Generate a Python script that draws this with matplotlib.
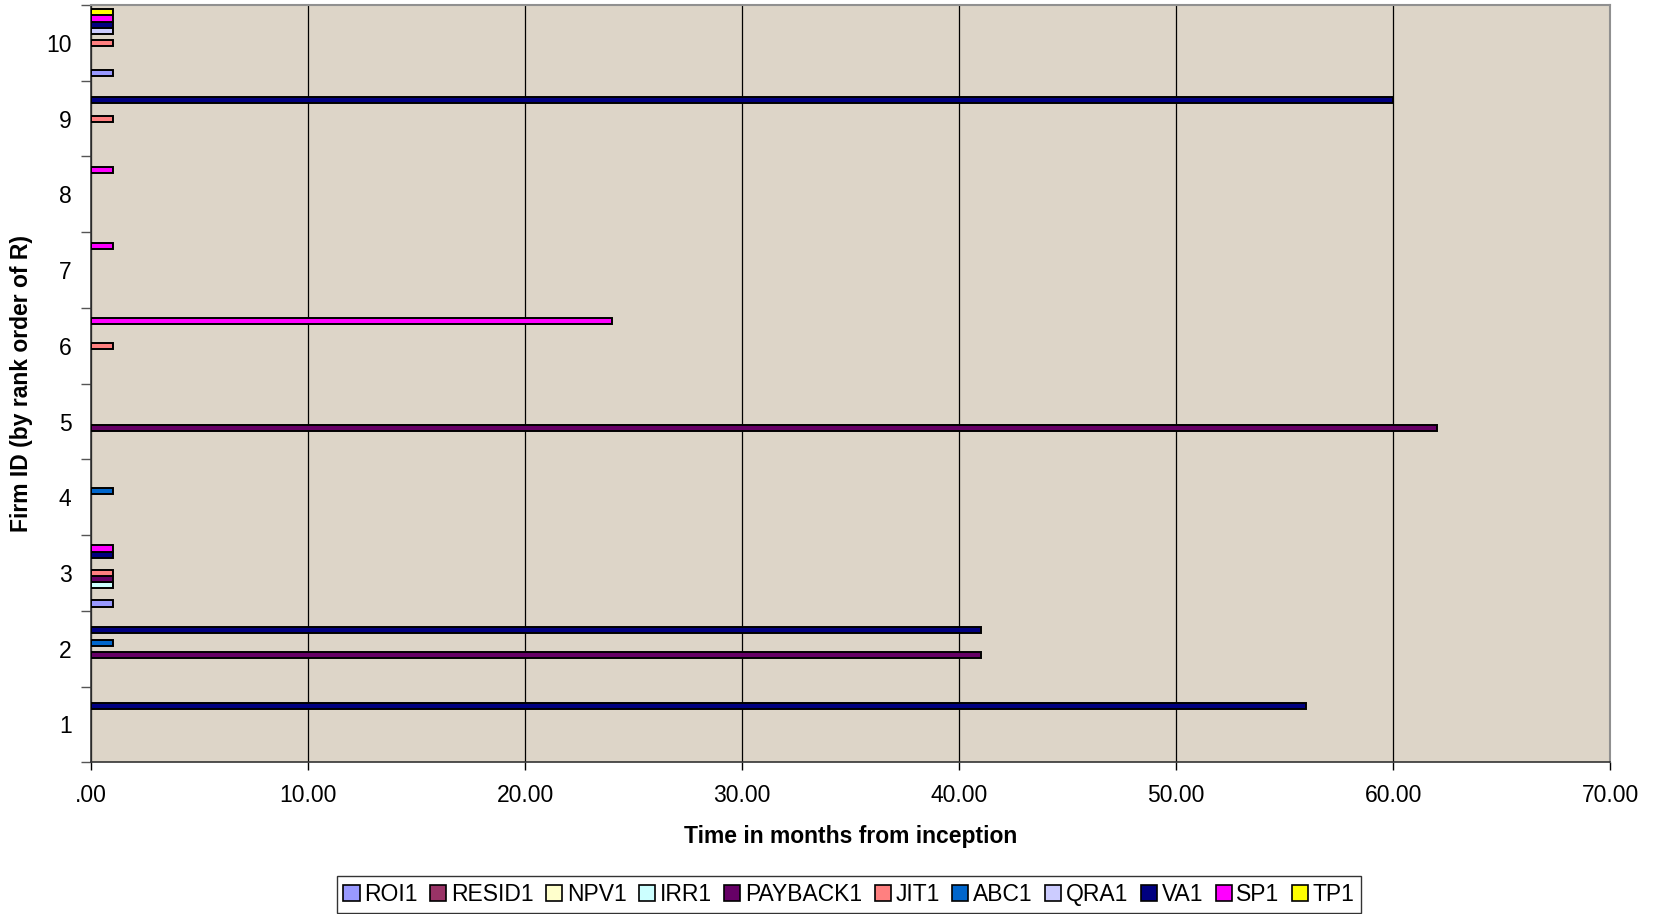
import numpy as np
import matplotlib
matplotlib.use("Agg")
import matplotlib.pyplot as plt
from matplotlib.patches import Patch

plt.rcParams['font.family'] = ['Liberation Sans', 'DejaVu Sans']

# data - firms 1..10, time in months from inception
firmy = [1, 2, 3, 4, 5, 6, 7, 8, 9, 10]
serie = ['ROI1', 'RESID1', 'NPV1', 'IRR1', 'PAYBACK1', 'JIT1', 'ABC1', 'QRA1', 'VA1', 'SP1', 'TP1']
barvy = ['#9999FF', '#993366', '#FFFFCC', '#CCFFFF', '#660066', '#FF8080',
         '#0066CC', '#CCCCFF', '#000080', '#FF00FF', '#FFFF00']

roi1 = [0, 0, 1, 0, 0, 0, 0, 0, 0, 1]
resid1 = [0, 0, 0, 0, 0, 0, 0, 0, 0, 0]
npv1 = [0, 0, 0, 0, 0, 0, 0, 0, 0, 0]
irr1 = [0, 0, 1, 0, 0, 0, 0, 0, 0, 0]
payback1 = [0, 41, 1, 0, 62, 0, 0, 0, 0, 0]
jit1 = [0, 0, 1, 0, 0, 1, 0, 0, 1, 1]
abc1 = [0, 1, 0, 1, 0, 0, 0, 0, 0, 0]
qra1 = [0, 0, 0, 0, 0, 0, 0, 0, 0, 1]
va1 = [56, 41, 1, 0, 0, 0, 0, 0, 60, 1]
sp1 = [0, 0, 1, 0, 0, 24, 1, 1, 0, 1]
tp1 = [0, 0, 0, 0, 0, 0, 0, 0, 0, 1]

hodnoty = [roi1, resid1, npv1, irr1, payback1, jit1, abc1, qra1, va1, sp1, tp1]

x_ticky = [0, 10, 20, 30, 40, 50, 60, 70]
x_popisky = ['.00', '10.00', '20.00', '30.00', '40.00', '50.00', '60.00', '70.00']

# NASTAVENI ZOBRAZENI
fig = plt.figure(figsize=(16.55, 9.14), dpi=100)
ax = fig.add_axes([0.055, 0.166, 0.918, 0.8285])
ax.set_facecolor('#DDD5C8')

n = len(serie)
sirka_skupiny = 0.887
vyska = sirka_skupiny / n
y = np.array(firmy, dtype=float)

for i, (jmeno, data, barva) in enumerate(zip(serie, hodnoty, barvy)):
    data = np.array(data, dtype=float)
    posun = (i - (n - 1) / 2) * vyska
    maska = data > 0  # nuly se nekresli
    ax.barh(y[maska] + posun, data[maska], height=vyska, color=barva,
            edgecolor='black', linewidth=1.4, zorder=3)

ax.set_xlim(0, 70)
ax.set_ylim(0.5, 10.5)
ax.set_xticks(x_ticky)
ax.set_xticklabels(x_popisky, fontsize=16.5)
ax.set_yticks(firmy)
ax.set_yticklabels([str(f) for f in firmy], fontsize=16.5)
ax.set_yticks(np.arange(0.5, 10.6, 1), minor=True)
ax.tick_params(axis='y', which='major', length=0, pad=14)
ax.tick_params(axis='y', which='minor', length=7, width=1, color='#555555')
ax.tick_params(axis='x', length=6, width=1, pad=10)

ax.grid(axis='x', color='black', linewidth=0.9, zorder=1)
ax.set_axisbelow(True)

for s in ['top', 'right']:
    ax.spines[s].set_color('#909090')
    ax.spines[s].set_linewidth(1.5)
for s in ['left', 'bottom']:
    ax.spines[s].set_color('#333333')
    ax.spines[s].set_linewidth(1.2)

ax.set_xlabel('Time in months from inception', fontsize=16.5, fontweight='bold', va='center')
ax.xaxis.set_label_coords(0.5, -0.098)
ax.set_ylabel('Firm ID (by rank order of R)', fontsize=16.5, fontweight='bold', va='center')
ax.yaxis.set_label_coords(-0.046, 0.5)

# legenda dole
handly = [Patch(facecolor=b, edgecolor='black', linewidth=1.2) for b in barvy]
leg = fig.legend(handly, serie, loc='center', bbox_to_anchor=(0.513, 0.021), ncol=n,
                 fontsize=16.5, frameon=True, fancybox=False, edgecolor='black',
                 handlelength=0.7, handleheight=0.7, handletextpad=0.2,
                 columnspacing=0.55, borderpad=0.3, borderaxespad=0)
leg.get_frame().set_linewidth(1.0)

fig.savefig('out.png', dpi=100)
